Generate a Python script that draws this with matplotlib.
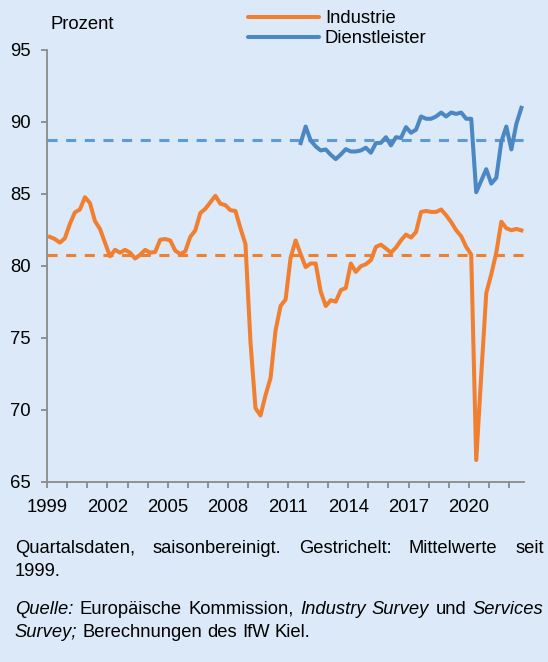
import numpy as np
import matplotlib
matplotlib.use("Agg")
import matplotlib.pyplot as plt
from matplotlib.lines import Line2D

plt.rcParams['font.family'] = ['Liberation Sans', 'DejaVu Sans']

# quarterly capacity utilisation, percent
industry = [
    82.0, 81.85, 81.6, 81.9,     # 1999
    82.9, 83.7, 83.9, 84.75,     # 2000
    84.35, 83.1, 82.55, 81.6,    # 2001
    80.65, 81.1, 80.9, 81.1,     # 2002
    80.9, 80.5, 80.75, 81.1,     # 2003
    80.9, 80.95, 81.8, 81.85,    # 2004
    81.75, 81.05, 80.8, 81.0,    # 2005
    82.0, 82.45, 83.65, 83.95,   # 2006
    84.4, 84.85, 84.3, 84.2,     # 2007
    83.85, 83.8, 82.6, 81.5,     # 2008
    74.7, 70.1, 69.6, 71.0,      # 2009
    72.2, 75.5, 77.2, 77.65,     # 2010
    80.55, 81.75, 80.8, 79.9,    # 2011
    80.15, 80.15, 78.2, 77.2,    # 2012
    77.6, 77.5, 78.3, 78.45,     # 2013
    80.15, 79.57, 79.96, 80.1,   # 2014
    80.38, 81.3, 81.46, 81.19,   # 2015
    80.9, 81.26, 81.76, 82.16,   # 2016
    81.95, 82.34, 83.73, 83.8,   # 2017
    83.73, 83.73, 83.9, 83.5,    # 2018
    83.03, 82.46, 82.04, 81.3,   # 2019
    80.77, 66.5, 72.4, 78.1,     # 2020
    79.4, 80.9, 83.05, 82.6,     # 2021
    82.46, 82.55, 82.45,         # 2022
]
services = [
    88.51, 89.66,                # 2011 Q3-Q4
    88.69, 88.28, 88.0, 88.07,   # 2012
    87.7, 87.4, 87.72, 88.09,    # 2013
    87.93, 87.93, 88.0, 88.19,   # 2014
    87.84, 88.51, 88.53, 88.92,  # 2015
    88.35, 88.92, 88.87, 89.62,  # 2016
    89.23, 89.44, 90.36, 90.2,   # 2017
    90.2, 90.36, 90.63, 90.36,   # 2018
    90.63, 90.54, 90.63, 90.2,   # 2019
    90.2, 85.1, 85.9, 86.7,      # 2020
    85.7, 86.1, 88.6, 89.66,     # 2021
    88.07, 89.85, 90.96,         # 2022
]
industry_mean = 80.72
services_mean = 88.72

# quarter midpoints
t_ind = 1999.125 + 0.25 * np.arange(len(industry))
t_svc = 2011.625 + 0.25 * np.arange(len(services))

years = list(range(1999, 2023))
year_labels = [str(y) if (y - 1999) % 3 == 0 and y <= 2020 else '' for y in years]
yticks = [65, 70, 75, 80, 85, 90, 95]

orange = '#f07f30'
blue = '#4a87c3'
blue_dash = '#5b9bd8'
bg = '#dce9f8'
grey = '#8a8a8a'
fsz = 13.3

fig = plt.figure(figsize=(5.48, 6.62), dpi=100, facecolor=bg)
ax = fig.add_axes([0.0863, 0.2724, 0.8697, 0.6526], facecolor=bg)

ax.axhline(industry_mean, color=orange, lw=2.2, dashes=(3.3, 2.8))
ax.axhline(services_mean, color=blue_dash, lw=2.2, dashes=(3.3, 2.8))
ax.plot(t_ind, industry, color=orange, lw=2.9, solid_joinstyle='round')
ax.plot(t_svc, services, color=blue, lw=2.9, solid_joinstyle='round')

ax.set_xlim(1999, 2022.75)
ax.set_ylim(65, 95)
ax.set_xticks(years)
ax.set_xticklabels(year_labels)
ax.set_yticks(yticks)
for s in ['top', 'right']:
    ax.spines[s].set_visible(False)
for s in ['left', 'bottom']:
    ax.spines[s].set_color(grey)
    ax.spines[s].set_linewidth(1.3)
ax.tick_params(axis='both', colors=grey, labelcolor='black', labelsize=fsz,
               length=4, width=1.3, direction='out')
ax.tick_params(axis='y', pad=8)
ax.tick_params(axis='x', pad=8.5)

fig.text(50.7 / 548, 0.956, 'Prozent', fontsize=fsz)

# legend
for yy, col, lab, base in [(16.7, orange, 'Industrie', 23.3),
                           (36.7, blue, 'Dienstleister', 42.7)]:
    yf = 1 - yy / 662
    fig.add_artist(Line2D([248.3 / 548, 319 / 548], [yf, yf], color=col,
                          lw=2.9, solid_capstyle='round',
                          transform=fig.transFigure))
    fig.text(325 / 548, 1 - base / 662, lab, fontsize=fsz)

# footnote, justified like the source
fs = 13.2
x0, x1 = 14.7 / 548, 543.7 / 548
lines = [
    (553.3, [('Quartalsdaten,', 'normal'), ('saisonbereinigt.', 'normal'),
             ('Gestrichelt:', 'normal'), ('Mittelwerte', 'normal'),
             ('seit', 'normal')], True),
    (576.0, [('1999.', 'normal')], False),
    (614.0, [('Quelle:', 'italic'), ('Europäische', 'normal'),
             ('Kommission,', 'normal'), ('Industry', 'italic'),
             ('Survey', 'italic'), ('und', 'normal'),
             ('Services', 'italic')], True),
    (636.7, [('Survey;', 'italic'), ('Berechnungen', 'normal'),
             ('des', 'normal'), ('IfW', 'normal'), ('Kiel.', 'normal')], False),
]
fig.canvas.draw()
renderer = fig.canvas.get_renderer()
W = fig.bbox.width
space = 0.278 * fs * 100 / 72 / W
for base, words, justify in lines:
    yf = 1 - base / 662
    objs = [fig.text(x0, yf, w, fontsize=fs, style=st) for w, st in words]
    widths = [o.get_window_extent(renderer).width / W for o in objs]
    if justify and len(objs) > 1:
        gap = (x1 - x0 - sum(widths)) / (len(objs) - 1)
    else:
        gap = space
    x = x0
    for o, w in zip(objs, widths):
        o.set_x(x)
        x += w + gap

fig.savefig('out.png', dpi=100, facecolor=bg)
